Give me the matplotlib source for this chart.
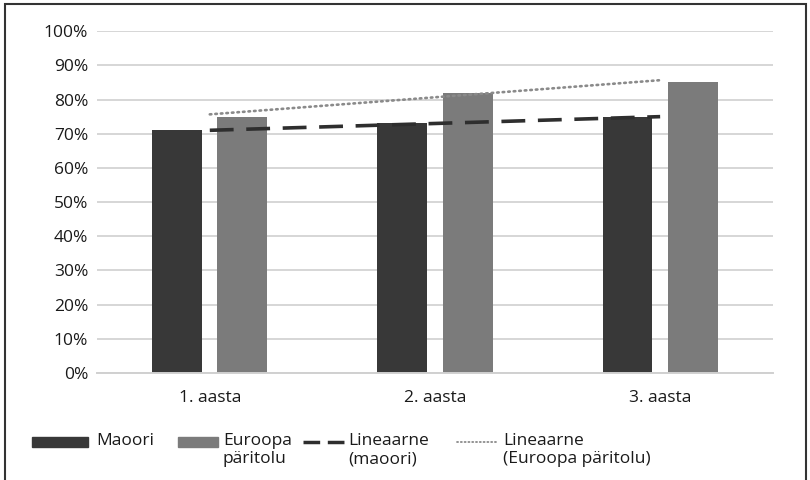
import matplotlib
matplotlib.use("Agg")
import matplotlib.pyplot as plt
import numpy as np
from matplotlib.lines import Line2D
from matplotlib.patches import Rectangle

plt.rcParams["font.family"] = ["Open Sans", "DejaVu Sans"]

categories = ["1. aasta", "2. aasta", "3. aasta"]
maoori = [71, 73, 75]
euroopa = [75, 82, 85]
yticks = [0, 10, 20, 30, 40, 50, 60, 70, 80, 90, 100]

C_MAO = "#383838"
C_EUR = "#7b7b7b"
C_TXT = "#1a1a1a"
FS = 12.5

fig = plt.figure(figsize=(8.1, 4.8), dpi=100)
ax = fig.add_axes([0.12, 0.223, 0.834, 0.712])

x = np.arange(len(categories))
w = 0.222
ax.bar(x - 0.145, maoori, w, color=C_MAO, zorder=2)
ax.bar(x + 0.145, euroopa, w, color=C_EUR, zorder=2)

DASH = dict(color="#2e2e2e", lw=2.6, ls=(0, (6.6, 3.5)))
DOT = dict(color="#8a8a8a", lw=1.9, ls=(0, (0.6, 1.5)), dash_capstyle="round")

# linear trendlines, evaluated at the category centres
for vals, style in [(maoori, DASH), (euroopa, DOT)]:
    k, b = np.polyfit(x, vals, 1)
    ax.plot(x, k * x + b, zorder=3, **style)

ax.set_xlim(-0.5, len(categories) - 0.5)
ax.set_ylim(0, 100)
ax.set_yticks(yticks)
ax.set_yticklabels([f"{t}%" for t in yticks])
ax.set_xticks(x)
ax.set_xticklabels(categories)
ax.yaxis.grid(True, color="#d6d6d6", lw=1.4, zorder=0)
ax.tick_params(length=0, labelsize=FS, colors=C_TXT)
ax.tick_params(axis="x", pad=12)
ax.tick_params(axis="y", pad=6.5)
for s in ["top", "right", "left"]:
    ax.spines[s].set_visible(False)
ax.spines["bottom"].set_color("#d0d0d0")
ax.spines["bottom"].set_linewidth(1.4)

# legend row drawn in figure pixels
H = 480.0
def fx(px):
    return px / 810.0
def fy(py):
    return 1 - py / H

def label(px, lines):
    for i, t in enumerate(lines):
        fig.text(fx(px), fy(441 + 18 * i), t, fontsize=FS, va="center",
                 color=C_TXT)

fig.add_artist(Rectangle((fx(32), fy(447)), fx(88) - fx(32), 10 / H,
                         color=C_MAO, transform=fig.transFigure))
label(96, ["Maoori"])
fig.add_artist(Rectangle((fx(178), fy(447)), fx(218) - fx(178), 10 / H,
                         color=C_EUR, transform=fig.transFigure))
label(223, ["Euroopa", "päritolu"])
fig.add_artist(Line2D([fx(303), fx(345)], [fy(442), fy(442)], color="#2e2e2e",
                      lw=2.5, ls=(0, (4.8, 2.2)), transform=fig.transFigure))
label(348, ["Lineaarne", "(maoori)"])
fig.add_artist(Line2D([fx(457), fx(498)], [fy(442), fy(442)],
                      transform=fig.transFigure, **dict(DOT, lw=1.3)))
label(503, ["Lineaarne", "(Euroopa päritolu)"])

# outer frame
fig.add_artist(Rectangle((fx(5), -0.05), fx(806) - fx(5), 1 - 3.5 / H + 0.05,
                         fill=False, ec="#333333", lw=1.5,
                         transform=fig.transFigure))

fig.savefig("out.png", dpi=100)
